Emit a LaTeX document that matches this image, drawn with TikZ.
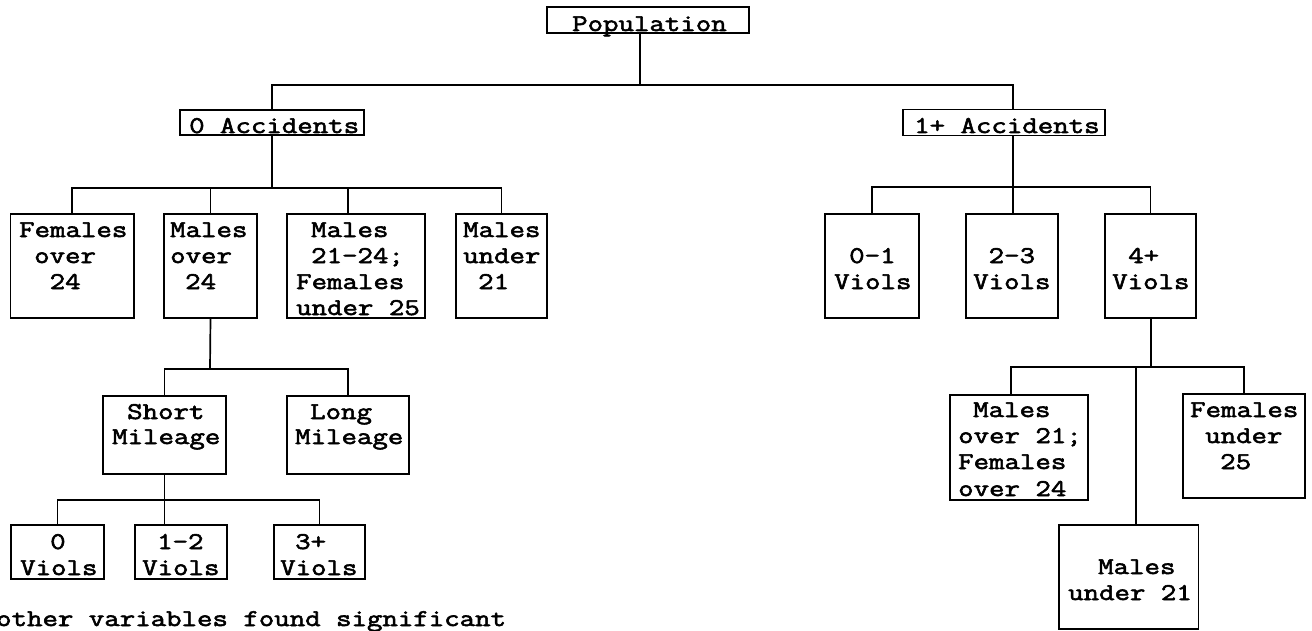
\documentclass[tikz,border=0pt]{standalone}
\usepackage{fontspec}
\setmonofont{Latin Modern Mono}[FakeStretch=1.25,FakeBold=2.4]
\newcommand{\tline}[4]{\node[txt] (#1) at (#2,#3) {#4};}
\begin{document}
\begin{tikzpicture}[x=1pt,y=-1pt,
  box/.style={draw, line width=1.7pt, rectangle, inner sep=0pt},
  txt/.style={anchor=base west, inner sep=0pt, font=\ttfamily\fontsize{24}{26}\selectfont},
  conn/.style={line width=1.7pt}]
\useasboundingbox (0,0) rectangle (1312,631);
% boxes
\node[box, minimum width=202pt, minimum height=26pt] (pop) at (648,20) {};
\node[box, minimum width=184pt, minimum height=25pt] (acc0) at (272,122.5) {};
\node[box, minimum width=202pt, minimum height=26pt] (acc1) at (1004,122.5) {};
\node[box, minimum width=123.5pt, minimum height=104pt] (fo) at (72.25,266) {};
\node[box, minimum width=93pt, minimum height=104pt] (mo) at (210.5,266) {};
\node[box, minimum width=138pt, minimum height=104pt] (mf) at (356,266) {};
\node[box, minimum width=91pt, minimum height=104pt] (mu) at (501.5,266) {};
\node[box, minimum width=93.5pt, minimum height=104pt] (v01) at (872,266) {};
\node[box, minimum width=92pt, minimum height=104pt] (v23) at (1012,266) {};
\node[box, minimum width=91pt, minimum height=104pt] (v4) at (1150.5,266) {};
\node[box, minimum width=123pt, minimum height=78pt] (sm) at (164.5,435) {};
\node[box, minimum width=122pt, minimum height=78pt] (lm) at (348,435) {};
\node[box, minimum width=93pt, minimum height=54pt] (v0) at (57.5,552) {};
\node[box, minimum width=92pt, minimum height=54pt] (v12) at (181,552) {};
\node[box, minimum width=91pt, minimum height=54pt] (v3) at (319.5,552) {};
\node[box, minimum width=138pt, minimum height=105pt] (mo21) at (1019,447.5) {};
\node[box, minimum width=122pt, minimum height=104pt] (fu25) at (1244,446) {};
\node[box, minimum width=139.5pt, minimum height=104pt] (mu21) at (1128.75,577) {};
% junction coordinates
\coordinate (b0) at (640,85);
\coordinate (b0r) at (1013,85);
\coordinate (b1) at (272,188);
\coordinate (mfd) at (348,188);
\coordinate (b2) at (1013,187);
\coordinate (b3) at (210,369);
\coordinate (b4) at (164.5,500);
\coordinate (b5) at (1151,367);
\coordinate (b5l) at (1011,367);
\coordinate (b5m) at (1136,367);
% connectors
\draw[conn] (pop.south -| b0) -- (b0);
\draw[conn] (acc0.north) |- (b0r) -- (b0r |- acc1.north);
\draw[conn] (acc0.south) -- (b1);
\draw[conn] (fo.north) |- (mu.north |- b1) -- (mu.north);
\draw[conn] (mo.north) -- (mo.north |- b1);
\draw[conn] (mfd) -- (mfd |- mf.north);
\draw[conn] (b2 |- v23.north) -- (b2 |- acc1.south);
\draw[conn] (v01.north) |- (v4.north |- b2) -- (v4.north);
\draw[conn] (v4.south -| b5) -- (b5);
\draw[conn] (mo.south) -- (b3);
\draw[conn] (sm.north) |- (lm.north |- b3) -- (lm.north);
\draw[conn] (sm.south) -- (v12.north -| sm.south);
\draw[conn] (v0.north) |- (v3.north |- b4) -- (v3.north);
\draw[conn] (b5l |- mo21.north) -- (b5l) -| (fu25.north);
\draw[conn] (b5m) -- (b5m |- mu21.north);
% texts
\tline{tpop}{572}{31}{Population}
\tline{tacc0}{189}{133}{0 Accidents}
\tline{tacc1}{914}{133}{1+ Accidents}
\tline{tfo1}{19}{237}{Females}
\tline{tfo2}{34}{263}{over}
\tline{tfo3}{49.5}{289}{24}
\tline{tmo1}{170}{237}{Males}
\tline{tmo2}{170}{263}{over}
\tline{tmo3}{185}{289}{24}
\tline{tmf1}{311}{237}{Males}
\tline{tmf2}{311}{263}{21-24;}
\tline{tmf3}{296}{289}{Females}
\tline{tmf4}{296}{315}{under 25}
\tline{tmu1}{463}{237}{Males}
\tline{tmu2}{463}{263}{under}
\tline{tmu3}{478}{289}{21}
\tline{tv011}{849}{263}{0-1}
\tline{tv012}{834}{289}{Viols}
\tline{tv231}{988.5}{263}{2-3}
\tline{tv232}{973}{289}{Viols}
\tline{tv41}{1128}{263}{4+}
\tline{tv42}{1112}{289}{Viols}
\tline{tsm1}{127}{419}{Short}
\tline{tsm2}{112}{444}{Mileage}
\tline{tlm1}{310}{419}{Long}
\tline{tlm2}{295}{444}{Mileage}
\tline{tv01}{50}{549}{0}
\tline{tv02}{20}{575}{Viols}
\tline{tv121}{157}{549}{1-2}
\tline{tv122}{142}{575}{Viols}
\tline{tv31}{295}{549}{3+}
\tline{tv32}{280}{575}{Viols}
\tline{tmo211}{973}{417}{Males}
\tline{tmo212}{958}{443}{over 21;}
\tline{tmo213}{958}{469}{Females}
\tline{tmo214}{958}{496}{over 24}
\tline{tfu1}{1190}{417}{Females}
\tline{tfu2}{1205}{443}{under}
\tline{tfu3}{1220}{469}{25}
\tline{tmu211}{1098}{574}{Males}
\tline{tmu212}{1068}{600}{under 21}
\tline{tnote}{-4}{626}{other variables found significant}
\end{tikzpicture}
\end{document}
